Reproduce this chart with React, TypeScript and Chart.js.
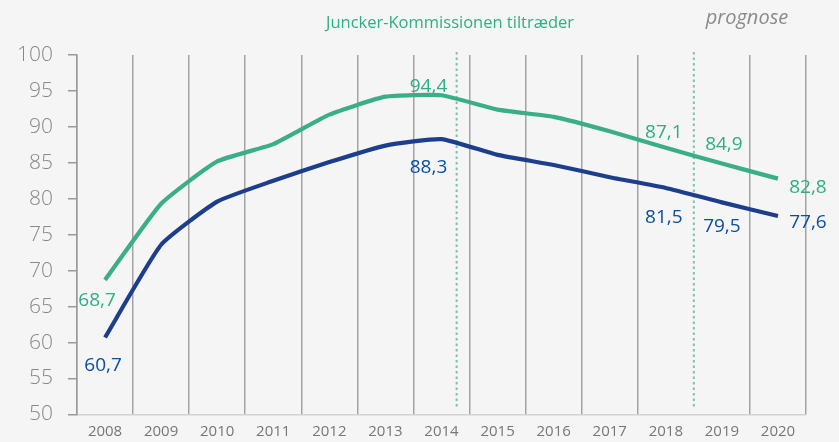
import React, { useEffect, useRef } from "react";
import { Chart, registerables } from "chart.js";

Chart.register(...registerables);

const years = ["2008", "2009", "2010", "2011", "2012", "2013", "2014", "2015", "2016", "2017", "2018", "2019", "2020"];
const greenSeries = [68.7, 79.3, 85.2, 87.6, 91.7, 94.2, 94.4, 92.4, 91.4, 89.4, 87.1, 84.9, 82.8];
const blueSeries = [60.7, 73.6, 79.6, 82.5, 85.1, 87.4, 88.3, 86.1, 84.7, 83.0, 81.5, 79.5, 77.6];
const yTicks = [50, 55, 60, 65, 70, 75, 80, 85, 90, 95, 100];
const labelledIdx = [0, 6, 10, 11, 12];
const markerPositions = [6.27, 10.5]; // in category index units
const titleText = "Juncker-Kommissionen tiltræder";
const forecastText = "prognose";

const GREEN = "#3aae88";
const GREEN_TXT = "#2fae86";
const NAVY = "#1d3e8c";
const NAVY_TXT = "#0b4ea2";
const FONT = "'Open Sans', 'DejaVu Sans', sans-serif";

// label offsets (px) relative to the point, per labelled index
const greenOffsets: Record<number, [number, number]> = {
  0: [-8, 21],
  6: [-13, -9],
  10: [-2, -15],
  11: [2, -19],
  12: [30, 9],
};
const blueOffsets: Record<number, [number, number]> = {
  0: [-2, 28],
  6: [-13, 28],
  10: [-2, 30],
  11: [0, 24],
  12: [30, 7],
};

const fmt = (v: number) => v.toFixed(1).replace(".", ",");

const overlay = {
  id: "overlay",
  beforeDatasetsDraw(chart: any) {
    const { ctx, chartArea, scales } = chart;
    const x = scales.x;
    ctx.save();
    ctx.strokeStyle = "#7cc3a6";
    ctx.lineWidth = 2;
    ctx.setLineDash([2.5, 3]);
    markerPositions.forEach((m) => {
      const i = Math.floor(m);
      const f = m - i;
      const p0 = x.getPixelForValue(i);
      const p1 = x.getPixelForValue(i + 1);
      const px = p0 + f * (p1 - p0);
      ctx.beginPath();
      ctx.moveTo(px, chartArea.top - 3);
      ctx.lineTo(px, chartArea.bottom - 5);
      ctx.stroke();
    });
    ctx.restore();
  },
  afterDraw(chart: any) {
    const { ctx, scales } = chart;
    const x = scales.x;
    const y = scales.y;
    ctx.save();
    ctx.textAlign = "center";
    ctx.textBaseline = "middle";
    ctx.font = `500 19px ${FONT}`;
    labelledIdx.forEach((i) => {
      const px = x.getPixelForValue(i);
      const g = greenOffsets[i];
      ctx.fillStyle = GREEN_TXT;
      ctx.fillText(fmt(greenSeries[i]), px + g[0], y.getPixelForValue(greenSeries[i]) + g[1]);
      const b = blueOffsets[i];
      ctx.fillStyle = NAVY_TXT;
      ctx.fillText(fmt(blueSeries[i]), px + b[0], y.getPixelForValue(blueSeries[i]) + b[1]);
    });
    ctx.font = `500 16.5px ${FONT}`;
    ctx.fillStyle = GREEN_TXT;
    ctx.fillText(titleText, 450, 23);
    ctx.font = `italic 20px ${FONT}`;
    ctx.fillStyle = "#8a8a8a";
    ctx.fillText(forecastText, 747, 18);
    ctx.restore();
  },
};

export default function App() {
  const ref = useRef<HTMLCanvasElement | null>(null);
  useEffect(() => {
    if (!ref.current) return;
    const chart = new Chart(ref.current, {
      type: "line",
      data: {
        labels: years,
        datasets: [
          {
            data: greenSeries,
            borderColor: GREEN,
            borderWidth: 4.2,
            pointRadius: 0,
            tension: 0.15,
          },
          {
            data: blueSeries,
            borderColor: NAVY,
            borderWidth: 4.2,
            pointRadius: 0,
            tension: 0.15,
          },
        ],
      },
      options: {
        responsive: false,
        animation: false,
        layout: { padding: { left: 0, right: 33, top: 55, bottom: 0 } },
        plugins: { legend: { display: false }, tooltip: { enabled: false }, title: { display: false } },
        scales: {
          x: {
            type: "category",
            offset: true,
            afterFit: (s: any) => {
              s.height = 23;
            },
            grid: {
              offset: true,
              color: (c: any) => (c.index === 11 ? "rgba(0,0,0,0)" : "#a3a3a3"),
              lineWidth: 1.5,
              drawTicks: false,
            },
            border: { display: true, color: "#d2d2d2", width: 1.5 },
            ticks: {
              color: "#777",
              font: { family: FONT, size: 15 },
              padding: 8,
              maxRotation: 0,
              autoSkip: false,
            },
          },
          y: {
            min: 50,
            max: 100,
            afterFit: (s: any) => {
              s.width = 77;
            },
            afterBuildTicks: (s: any) => {
              s.ticks = yTicks.map((v) => ({ value: v }));
            },
            grid: {
              drawOnChartArea: false,
              drawTicks: true,
              tickLength: 9,
              color: "#999",
              lineWidth: 1.5,
            },
            border: { display: true, color: "#999", width: 1.5 },
            ticks: {
              color: "#888",
              font: { family: FONT, size: 21, weight: "300" },
              padding: 15,
            },
          },
        },
      },
      plugins: [overlay],
    });
    return () => chart.destroy();
  }, []);
  return (
    <div style={{ position: "fixed", left: 0, top: 0, width: 839, height: 442, background: "#f5f5f5" }}>
      <canvas ref={ref} width={839} height={442} style={{ display: "block" }} />
    </div>
  );
}
